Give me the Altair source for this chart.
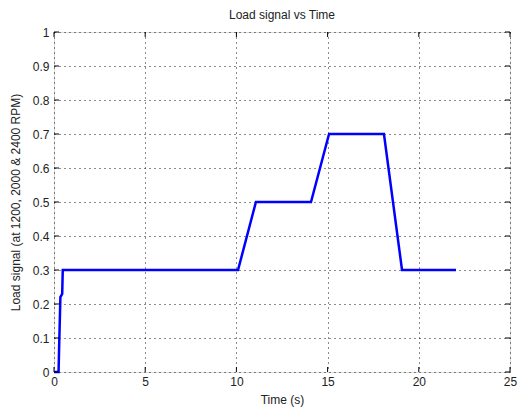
import altair as alt
import pandas as pd

# Load signal trace (time in seconds, normalised load)
time_s = [0.0, 0.15, 0.25, 0.28, 0.35, 0.45, 0.48, 10.09, 11.07, 14.09, 15.08, 18.09, 19.08, 22.04]
load = [0.0, 0.0, 0.0, 0.07, 0.22, 0.23, 0.30, 0.30, 0.50, 0.50, 0.70, 0.70, 0.30, 0.30]

x_ticks = [0, 5, 10, 15, 20, 25]
y_ticks = [0, 0.1, 0.2, 0.3, 0.4, 0.5, 0.6, 0.7, 0.8, 0.9, 1.0]

df = pd.DataFrame({"t": time_s, "load": load})
xt = pd.DataFrame({"v": x_ticks})
yt = pd.DataFrame({"v": y_ticks})

W, H = 456, 340
FONT = "Liberation Sans"

x_scale = alt.Scale(domain=[0, 25], nice=False, zero=False)
y_scale = alt.Scale(domain=[0, 1], nice=False, zero=False)

x_axis = alt.Axis(
    values=x_ticks, title="Time (s)", grid=True, gridColor="black", gridDash=[1, 4],
    gridOpacity=0.9, domain=False, ticks=False, labelPadding=4, labelFontSize=12,
    labelFont=FONT, labelColor="#222", titleFont=FONT, titleFontSize=12,
    titleFontWeight="normal", titleColor="#222", titlePadding=7, labelFlush=False,
    labelOverlap=False,
)
y_axis = alt.Axis(
    values=y_ticks, title="Load signal (at 1200, 2000 & 2400 RPM)", grid=True,
    gridColor="black", gridDash=[1, 4], gridOpacity=0.9, domain=False, ticks=False,
    labelPadding=5, labelFontSize=12, labelFont=FONT, labelColor="#222",
    titleFont=FONT, titleFontSize=12, titleFontWeight="normal", titleColor="#222",
    titlePadding=10, labelFlush=False, labelOverlap=False, format="~g",
)

line = alt.Chart(df).mark_line(color="#0000ff", strokeWidth=2.5).encode(
    x=alt.X("t:Q", scale=x_scale, axis=x_axis),
    y=alt.Y("load:Q", scale=y_scale, axis=y_axis),
)

# Inward tick marks on all four sides
tick_len = 5
bx = alt.Chart(xt).mark_rule(color="black", strokeWidth=1).encode(
    x=alt.X("v:Q", scale=x_scale, axis=x_axis), y=alt.value(H), y2=alt.value(H - tick_len))
tx = alt.Chart(xt).mark_rule(color="black", strokeWidth=1).encode(
    x=alt.X("v:Q", scale=x_scale, axis=x_axis), y=alt.value(0), y2=alt.value(tick_len))
ly = alt.Chart(yt).mark_rule(color="black", strokeWidth=1).encode(
    y=alt.Y("v:Q", scale=y_scale, axis=y_axis), x=alt.value(0), x2=alt.value(tick_len))
ry = alt.Chart(yt).mark_rule(color="black", strokeWidth=1).encode(
    y=alt.Y("v:Q", scale=y_scale, axis=y_axis), x=alt.value(W), x2=alt.value(W - tick_len))

chart = alt.layer(line, bx, tx, ly, ry).properties(
    width=W, height=H,
    title=alt.TitleParams("Load signal vs Time", font=FONT, fontSize=12,
                          fontWeight="normal", color="#222", offset=4),
    autosize=alt.AutoSizeParams(type="none"),
    padding={"left": 54, "top": 32, "right": 8, "bottom": 38},
).configure_view(stroke="black", strokeWidth=1).configure(background="white")

chart.save("out.html", embed_options={"renderer": "svg", "actions": False})
